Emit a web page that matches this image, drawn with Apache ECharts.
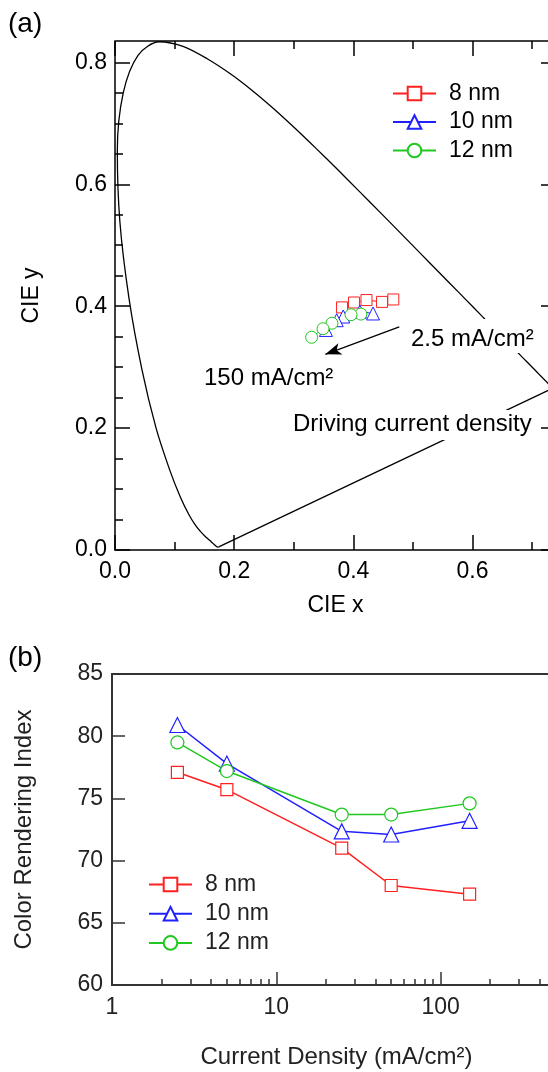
<!DOCTYPE html>
<html>
<head>
<meta charset="utf-8">
<script src="https://cdn.jsdelivr.net/npm/echarts@6/dist/echarts.min.js"></script>
<style>
  html, body { margin: 0; padding: 0; background: #fff; }
  #chart { width: 548px; height: 1072px; }
</style>
</head>
<body>
<div id="chart"></div>
<script>
// CIE 1931 spectral locus, 380 - 700 nm, 5 nm steps
var locusX = [0.1741, 0.1740, 0.1738, 0.1736, 0.1733, 0.1730, 0.1726, 0.1721, 0.1714, 0.1703,
  0.1689, 0.1669, 0.1644, 0.1611, 0.1566, 0.1510, 0.1440, 0.1355, 0.1241, 0.1096,
  0.0913, 0.0687, 0.0454, 0.0235, 0.0082, 0.0039, 0.0139, 0.0389, 0.0743, 0.1142,
  0.1547, 0.1929, 0.2296, 0.2658, 0.3016, 0.3373, 0.3731, 0.4087, 0.4441, 0.4788,
  0.5125, 0.5448, 0.5752, 0.6029, 0.6270, 0.6482, 0.6658, 0.6801, 0.6915, 0.7006,
  0.7079, 0.7140, 0.7190, 0.7230, 0.7260, 0.7283, 0.7300, 0.7311, 0.7320, 0.7327,
  0.7334, 0.7340, 0.7344, 0.7346, 0.7347];
var locusY = [0.0050, 0.0050, 0.0049, 0.0049, 0.0048, 0.0048, 0.0048, 0.0048, 0.0051, 0.0058,
  0.0069, 0.0086, 0.0109, 0.0138, 0.0177, 0.0227, 0.0297, 0.0399, 0.0578, 0.0868,
  0.1327, 0.2007, 0.2950, 0.4127, 0.5384, 0.6548, 0.7502, 0.8120, 0.8338, 0.8262,
  0.8059, 0.7816, 0.7543, 0.7243, 0.6923, 0.6589, 0.6245, 0.5896, 0.5547, 0.5202,
  0.4866, 0.4544, 0.4242, 0.3965, 0.3725, 0.3514, 0.3340, 0.3197, 0.3083, 0.2993,
  0.2920, 0.2859, 0.2809, 0.2770, 0.2740, 0.2717, 0.2700, 0.2689, 0.2680, 0.2673,
  0.2666, 0.2660, 0.2656, 0.2654, 0.2653];

// (a) CIE coordinates, from 2.5 to 150 mA/cm2
var cieX8 = [0.467, 0.448, 0.422, 0.401, 0.381];
var cieY8 = [0.411, 0.407, 0.410, 0.406, 0.398];
var cieX10 = [0.433, 0.411, 0.383, 0.372, 0.354];
var cieY10 = [0.388, 0.391, 0.383, 0.377, 0.361];
var cieX12 = [0.4125, 0.396, 0.364, 0.349, 0.330];
var cieY12 = [0.387, 0.386, 0.372, 0.363, 0.349];

// (b) colour rendering index
var density = [2.5, 5, 25, 50, 150];
var cri8 = [77.1, 75.7, 71.0, 68.0, 67.3];
var cri10 = [80.9, 77.8, 72.35, 72.1, 73.2];
var cri12 = [79.5, 77.2, 73.7, 73.7, 74.6];

// ticks
var xMajorA = [0, 0.2, 0.4, 0.6];
var xMinorA = [0.1, 0.3, 0.5, 0.7];
var yMajorA = [0, 0.2, 0.4, 0.6, 0.8];
var yMinorA = [0.05, 0.1, 0.15, 0.25, 0.3, 0.35, 0.45, 0.5, 0.55, 0.65, 0.7, 0.75];
var xMajorB = [1, 10, 100, 1000];
var xMinorB = [2, 3, 4, 5, 6, 7, 8, 9, 20, 30, 40, 50, 60, 70, 80, 90, 200, 300, 400, 500, 600, 700, 800, 900];

// arrow (a): 2.5 -> 150 mA/cm2
var arrowFrom = [0.477, 0.366];
var arrowTo = [0.353, 0.321];

var names = ['8 nm', '10 nm', '12 nm'];
var colors = ['#ff2020', '#2020ff', '#20c820'];
var FONT = 'Liberation Sans, Arial, sans-serif';

function zip(a, b) {
  return a.map(function (v, i) { return [v, b[i]]; });
}

function tickAxis(grid, pos, type, min, max, values, len) {
  return {
    type: type, gridIndex: grid, position: pos, min: min, max: max,
    axisLine: { show: false, onZero: false },
    axisTick: { show: true, inside: true, length: len, customValues: values,
      lineStyle: { color: '#000', width: 1.5 } },
    axisLabel: { show: false },
    splitLine: { show: false }
  };
}

var xA = tickAxis(0, 'bottom', 'value', 0, 0.74, xMajorA, 15);
xA.axisLabel = { show: true, customValues: xMajorA, margin: 10, fontSize: 23, color: '#000', fontFamily: FONT,
  formatter: function (v) { return v.toFixed(1); } };
xA.name = 'CIE x';
xA.nameLocation = 'middle';
xA.nameGap = 44;
xA.nameTextStyle = { fontSize: 23, color: '#000', fontFamily: FONT };

var yA = tickAxis(0, 'left', 'value', 0, 0.835, yMajorA, 15);
yA.axisLabel = { show: true, customValues: yMajorA, margin: 8, fontSize: 23, color: '#000', fontFamily: FONT,
  formatter: function (v) { return v.toFixed(1); } };
yA.name = 'CIE y';
yA.nameLocation = 'middle';
yA.nameRotate = 90;
yA.nameGap = 72;
yA.nameTextStyle = { fontSize: 23, color: '#000', fontFamily: FONT };

var xB = tickAxis(1, 'bottom', 'log', 1, 1000, xMajorB, 13);
xB.axisTick.lineStyle = { color: '#333', width: 1.5 };
xB.axisLabel = { show: true, customValues: xMajorB, margin: 11, fontSize: 23, color: '#222', fontFamily: FONT,
  formatter: function (v) { return String(v); } };
xB.name = 'Current Density (mA/cm²)';
xB.nameLocation = 'middle';
xB.nameGap = 60;
xB.nameTextStyle = { fontSize: 24, color: '#222', fontFamily: FONT, padding: [0, 44, 0, 0] };

var xB2 = tickAxis(1, 'bottom', 'log', 1, 1000, xMinorB, 6);
xB2.axisTick.lineStyle = { color: '#333', width: 1.5 };

var yB = {
  type: 'value', gridIndex: 1, position: 'left', min: 60, max: 85, interval: 5,
  axisLine: { show: false, onZero: false },
  axisTick: { show: true, inside: true, length: 13, lineStyle: { color: '#333', width: 1.5 } },
  axisLabel: { margin: 9, fontSize: 23, color: '#222', fontFamily: FONT },
  splitLine: { show: false },
  name: 'Color Rendering Index', nameLocation: 'middle', nameRotate: 90, nameGap: 76,
  nameTextStyle: { fontSize: 24, color: '#222', fontFamily: FONT }
};

var symbolsA = ['rect', 'triangle', 'circle'];
var sizesA = [11, 13, 12];
var sizesB = [12, 15, 13];
var dataA = [zip(cieX8, cieY8), zip(cieX10, cieY10), zip(cieX12, cieY12)];
var dataB = [zip(density, cri8), zip(density, cri10), zip(density, cri12)];

var series = [{
  name: 'locus', type: 'line', xAxisIndex: 0, yAxisIndex: 0,
  data: zip(locusX, locusY), smooth: 0.3, showSymbol: false, symbol: 'none',
  lineStyle: { color: '#000', width: 1.3 }, silent: true, z: 1,
  markLine: {
    silent: true, symbol: ['none', 'arrow'], symbolSize: [9, 16],
    lineStyle: { color: '#000', width: 1.3, type: 'solid' }, label: { show: false },
    data: [[{ coord: arrowFrom }, { coord: arrowTo }]]
  }
}, {
  name: 'purple', type: 'line', xAxisIndex: 0, yAxisIndex: 0,
  data: [[locusX[locusX.length - 1], locusY[locusY.length - 1]], [locusX[0], locusY[0]]],
  showSymbol: false, symbol: 'none', lineStyle: { color: '#000', width: 1.3 }, silent: true, z: 1
}];

names.forEach(function (n, i) {
  series.push({
    name: n, type: 'line', xAxisIndex: 0, yAxisIndex: 0, data: dataA[i],
    symbol: symbolsA[i], symbolSize: sizesA[i],
    lineStyle: { color: colors[i], width: 1 },
    itemStyle: { color: '#fff', borderColor: colors[i], borderWidth: 1 }
  });
});
names.forEach(function (n, i) {
  series.push({
    name: n, type: 'line', xAxisIndex: 2, yAxisIndex: 2, data: dataB[i],
    symbol: symbolsA[i], symbolSize: sizesB[i],
    lineStyle: { color: colors[i], width: 1.5 },
    itemStyle: { color: '#fff', borderColor: colors[i], borderWidth: 1.2 }
  });
});

function label(text, left, y, size, bg) {
  return {
    type: 'text', left: left, top: y, z: 100,
    style: { text: text, font: size + 'px ' + FONT, fill: '#000',
      backgroundColor: bg ? '#fff' : null, padding: bg || 0 }
  };
}

var option = {
  animation: false,
  backgroundColor: '#fff',
  grid: [
    { left: 115, top: 41, width: 441, height: 509, show: true, borderColor: '#000', borderWidth: 1.5,
      outerBoundsMode: 'none', containLabel: false },
    { left: 112, top: 674, width: 493, height: 311, show: true, borderColor: '#333', borderWidth: 2,
      outerBoundsMode: 'none', containLabel: false }
  ],
  xAxis: [
    xA,
    tickAxis(0, 'top', 'value', 0, 0.74, xMajorA, 15),
    xB,
    tickAxis(0, 'bottom', 'value', 0, 0.74, xMinorA, 8),
    tickAxis(0, 'top', 'value', 0, 0.74, xMinorA, 8),
    xB2
  ],
  yAxis: [
    yA,
    tickAxis(0, 'right', 'value', 0, 0.835, yMajorA, 15),
    yB,
    tickAxis(0, 'left', 'value', 0, 0.835, yMinorA, 8),
    tickAxis(0, 'right', 'value', 0, 0.835, yMinorA, 8)
  ],
  legend: [{
    data: names, orient: 'vertical', left: 392, top: 82, padding: 0,
    itemWidth: 43, itemHeight: 17, itemGap: 5.5,
    textStyle: { fontSize: 23, color: '#000', fontFamily: FONT, padding: [0, 0, 0, 8] }
  }, {
    data: names, orient: 'vertical', left: 148, top: 873, padding: 0,
    itemWidth: 43, itemHeight: 17, itemGap: 6.2,
    textStyle: { fontSize: 23, color: '#222', fontFamily: FONT, padding: [0, 0, 0, 8] }
  }],
  graphic: [
    label('(a)', 8, 10, 28),
    label('(b)', 8, 644, 28),
    label('2.5 mA/cm²', 408, 319, 24, [8, 4, 2, 3]),
    label('150 mA/cm²', 204, 366, 24),
    label('Driving current density', 289, 410, 24, [2, 4, 4, 4])
  ],
  series: series
};

var chart = echarts.init(document.getElementById('chart'));
chart.setOption(option);
</script>
</body>
</html>
